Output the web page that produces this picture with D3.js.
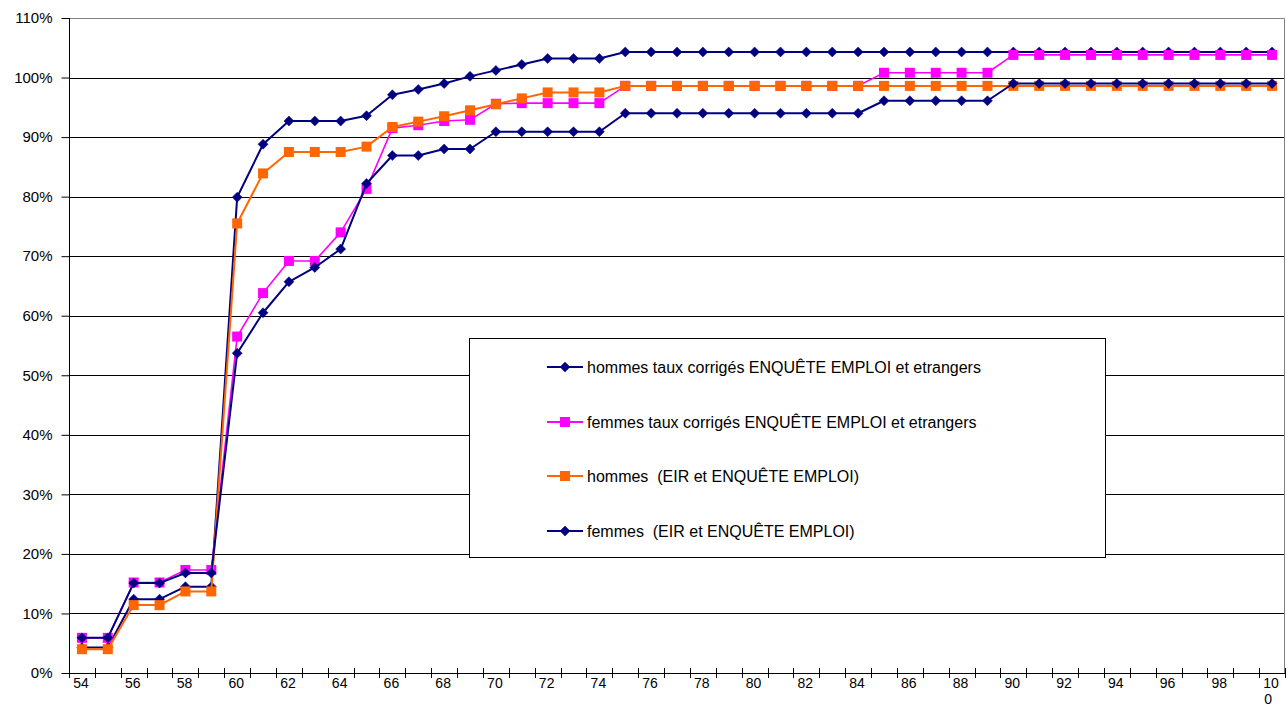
<!DOCTYPE html>
<html>
<head>
<meta charset="utf-8">
<script src="https://cdn.jsdelivr.net/npm/d3@7"></script>
<style>
  html, body { margin: 0; padding: 0; background: #fff; }
  svg { display: block; font-family: "Liberation Sans", Arial, sans-serif; }
  text { white-space: pre; }
</style>
</head>
<body>
<svg id="chart" width="1286" height="707"></svg>
<script>
// ---- data ----
const ages = d3.range(54, 101);
const yTicks = [0, 10, 20, 30, 40, 50, 60, 70, 80, 90, 100, 110];

const hommesCorriges = [4.3, 4.3, 12.4, 12.4, 14.5, 14.5, 79.9, 88.8, 92.7, 92.7, 92.7, 93.6, 97.1, 98.0, 99.0, 100.2, 101.2, 102.2, 103.2, 103.2, 103.2,
  104.3, 104.3, 104.3, 104.3, 104.3, 104.3, 104.3, 104.3, 104.3, 104.3, 104.3, 104.3, 104.3, 104.3, 104.3, 104.3, 104.3, 104.3, 104.3, 104.3, 104.3, 104.3, 104.3, 104.3, 104.3, 104.3];
const femmesCorriges = [5.9, 5.9, 15.2, 15.2, 17.3, 17.3, 56.5, 63.8, 69.2, 69.2, 74.0, 81.3, 91.5, 92.0, 92.7, 92.9, 95.6, 95.7, 95.7, 95.7, 95.7,
  98.6, 98.6, 98.6, 98.6, 98.6, 98.6, 98.6, 98.6, 98.6, 98.6,
  100.8, 100.8, 100.8, 100.8, 100.8,
  103.8, 103.8, 103.8, 103.8, 103.8, 103.8, 103.8, 103.8, 103.8, 103.8, 103.8];
const hommesEIR = [4.0, 4.0, 11.4, 11.4, 13.7, 13.7, 75.5, 83.9, 87.5, 87.5, 87.5, 88.4, 91.7, 92.6, 93.5, 94.5, 95.5, 96.5, 97.5, 97.5, 97.5,
  98.6, 98.6, 98.6, 98.6, 98.6, 98.6, 98.6, 98.6, 98.6, 98.6, 98.6, 98.6, 98.6, 98.6, 98.6, 98.6, 98.6, 98.6, 98.6, 98.6, 98.6, 98.6, 98.6, 98.6, 98.6, 98.6];
const femmesEIR = [5.9, 5.9, 15.1, 15.1, 16.8, 16.8, 53.7, 60.5, 65.7, 68.1, 71.2, 82.2, 86.9, 86.9, 88.0, 88.0, 90.9, 90.9, 90.9, 90.9, 90.9,
  94.0, 94.0, 94.0, 94.0, 94.0, 94.0, 94.0, 94.0, 94.0, 94.0,
  96.1, 96.1, 96.1, 96.1, 96.1,
  99.0, 99.0, 99.0, 99.0, 99.0, 99.0, 99.0, 99.0, 99.0, 99.0, 99.0];

const seriesNames = [
  "hommes taux corrigés ENQUÊTE EMPLOI et etrangers",
  "femmes taux corrigés ENQUÊTE EMPLOI et etrangers",
  "hommes  (EIR et ENQUÊTE EMPLOI)",
  "femmes  (EIR et ENQUÊTE EMPLOI)"
];
const seriesValues = [hommesCorriges, femmesCorriges, hommesEIR, femmesEIR];
const seriesColors = ["#000080", "#FF00FF", "#FF6600", "#000080"];
const seriesMarkers = ["diamond", "square", "square", "diamond"];

// ---- layout ----
const L = 69, R = 1285, T = 18, B = 673;
const svg = d3.select("#chart");

const x = d3.scaleBand().domain(ages).range([L, R]).paddingInner(0).paddingOuter(0);
const xc = a => x(a) + x.bandwidth() / 2;
const y = d3.scaleLinear().domain([0, 110]).range([B, T]);

// gridlines
svg.append("g").selectAll("line").data(yTicks.slice(1, -1)).join("line")
  .attr("x1", L).attr("x2", R)
  .attr("y1", d => Math.round(y(d)) + 0.5).attr("y2", d => Math.round(y(d)) + 0.5)
  .attr("stroke", "#000").attr("stroke-width", 1);

// plot border (top/right) gray
svg.append("path")
  .attr("d", `M${L},${Math.round(y(110)) + 0.5}H${R - 0.5}V${B}`)
  .attr("fill", "none").attr("stroke", "#808080").attr("stroke-width", 1);

// y axis
const yAxis = d3.axisLeft(y).tickValues(yTicks).tickSize(8).tickPadding(9)
  .tickFormat(d => d + "%");
const gy = svg.append("g").attr("transform", `translate(${L + 0.5},0)`).call(yAxis);
gy.select(".domain").attr("stroke", "#000").attr("d", `M0,${T}V${B}`);
gy.selectAll(".tick line").attr("stroke", "#000");
gy.selectAll(".tick text").attr("font-size", 15).attr("fill", "#000")
  .attr("font-family", "Liberation Sans, Arial, sans-serif");

// x axis line
svg.append("line").attr("x1", L).attr("x2", R).attr("y1", B + 0.5).attr("y2", B + 0.5)
  .attr("stroke", "#000");
// x tick marks at category boundaries
const bounds = ages.map(a => x(a)).concat([R]);
svg.append("g").selectAll("line").data(bounds).join("line")
  .attr("x1", d => Math.round(d) + 0.5).attr("x2", d => Math.round(d) + 0.5)
  .attr("y1", B - 5).attr("y2", B + 5).attr("stroke", "#000");

// x labels (every other category)
const xLabels = ages.filter(a => (a - 54) % 2 === 0);
const xl = svg.append("g").selectAll("text").data(xLabels).join("text")
  .attr("x", d => xc(d) - 1).attr("y", B + 15)
  .attr("text-anchor", "middle").attr("font-size", 14).attr("fill", "#000");
xl.each(function(d) {
  const t = d3.select(this);
  if (d === 100) {
    t.append("tspan").attr("x", xc(d) - 1).text("10");
    t.append("tspan").attr("x", xc(d) - 4).attr("dy", 16).text("0");
  } else {
    t.text(d);
  }
});

// markers
function drawMarker(g, type, color, cx, cy) {
  const s = 5;
  if (type === "diamond") {
    g.append("path").attr("d", `M${cx},${cy - s}L${cx + s},${cy}L${cx},${cy + s}L${cx - s},${cy}Z`)
      .attr("fill", color).attr("stroke", color).attr("stroke-width", 0.5);
  } else {
    g.append("rect").attr("x", cx - s).attr("y", cy - s).attr("width", 2 * s).attr("height", 2 * s)
      .attr("fill", color);
  }
}

const line = d3.line().x((d, i) => xc(ages[i])).y(d => y(d));
seriesValues.forEach((vals, si) => {
  const g = svg.append("g");
  g.append("path").datum(vals).attr("d", line)
    .attr("fill", "none").attr("stroke", seriesColors[si])
    .attr("stroke-width", si === 1 ? 1.6 : 2).attr("stroke-linejoin", "round");
  vals.forEach((v, i) => drawMarker(g, seriesMarkers[si], seriesColors[si], xc(ages[i]), y(v)));
});

// legend
const lg = svg.append("g");
lg.append("rect").attr("x", 469.5).attr("y", 338.5).attr("width", 636).attr("height", 219)
  .attr("fill", "#fff").attr("stroke", "#000").attr("stroke-width", 1);
const rowY = [367, 422, 476, 531];
seriesNames.forEach((name, i) => {
  const yy = rowY[i];
  lg.append("line").attr("x1", 547).attr("x2", 583).attr("y1", yy).attr("y2", yy)
    .attr("stroke", seriesColors[i]).attr("stroke-width", 2);
  drawMarker(lg, seriesMarkers[i], seriesColors[i], 565, yy);
  lg.append("text").attr("x", 587).attr("y", yy).attr("dy", "0.36em")
    .attr("font-size", 16).attr("fill", "#000").text(name);
});
</script>
</body>
</html>
